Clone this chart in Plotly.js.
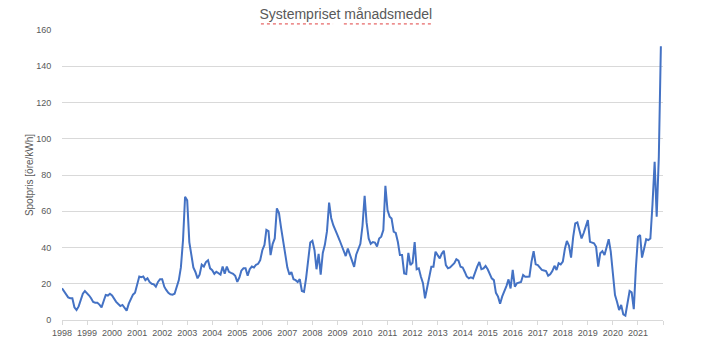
<!DOCTYPE html>
<html><head><meta charset="utf-8">
<script src="https://cdn.plot.ly/plotly-3.0.1.min.js"></script>
<style>html,body{margin:0;padding:0;background:#fff}#chart{width:728px;height:360px}</style>
</head><body><div id="chart"></div>
<script>
// Years covered (monthly averages, Jan..Dec for each year)
const years = [1998,1999,2000,2001,2002,2003,2004,2005,2006,2007,2008,2009,2010,2011,2012,2013,2014,2015,2016,2017,2018,2019,2020,2021];
const monthNums = ['01','02','03','04','05','06','07','08','09','10','11','12'];

// Monthly system price, öre/kWh
const prices = [
  17.5,16,14,12.5,12,12,7,5.5,7.5,11,14.5,16,            // 1998
  15,13.5,12,10,9.5,9.5,8.5,7,10.5,13.8,13.5,14.5,       // 1999
  13.5,11.5,10,8.8,7.7,8.3,6.5,5.2,9,12,14,15,           // 2000
  19,24,23.6,24,22,23,21,20,19.7,18.4,21,22.5,           // 2001
  22.5,18.4,16.6,15,14.2,14,14.5,18,22,29,44,68,         // 2002
  66,43,35,29,26.5,23,25,30.5,29.5,32,33,28.5,           // 2003
  27.5,25.5,26.6,25.8,25,29.5,25.5,29.5,26.6,26,25.5,24.4, // 2004
  21,23.5,27.2,28.5,28.5,24.4,28,29.5,29,30.5,31,33,     // 2005
  38.5,41.4,49.7,49,35.8,42,45,61.6,59,51,44,35,         // 2006
  28.9,25,26.5,22.5,22,21,22.5,16,15.5,23,31.8,42.8,     // 2007
  43.7,38.5,28,36.5,25,37,41.5,49,64.8,56.3,52.3,50,     // 2008
  46.8,44,41,38.5,35.3,39.4,35.8,32.5,29.3,36,39.4,42,   // 2009
  52,68.5,54,45,42,43,42.7,40.5,45,46,49.6,74,           // 2010
  60.7,57,56,48.7,48,43,35.8,35.8,25.7,25.4,37,30.3,     // 2011
  31.6,43,28,28.5,24,20.3,12,18,22,29.4,29.4,37.7,       // 2012
  35.8,34,36.5,38.2,30.3,28.5,29,30,31.3,33.5,32.7,29.4, // 2013
  29,26.5,24,23,23.5,23,26.6,29.4,32,28,28.5,29.8,       // 2014
  28,25.7,23,22,15,12.9,9,13,15.5,18.7,22.4,17.4,        // 2015
  27.6,18.4,20.2,20.5,21,24.8,23.9,23.9,24,32.2,38,30.7, // 2016
  30.3,28.9,27.6,27.3,27,24.4,25.2,27,29.9,27.6,31.3,30.7, // 2017
  32.2,39.5,43.6,41,34.4,45.9,53.3,53.8,48.7,45,48,51,   // 2018
  55.1,43.1,42.5,42.3,40.4,29.4,36.8,38,35.8,40,44.6,37.7, // 2019
  25,13.8,10.1,5.5,8.3,3.1,2.4,9.2,16,15.3,6,28.5,       // 2020
  45.9,46.9,34.4,39.5,44.6,44.1,45,64,87.3,57,90,151     // 2021
];

// Axis tick labels (one per year, last boundary tick unlabeled)
const tickYears = ['1998','1999','2000','2001','2002','2003','2004','2005','2006','2007','2008','2009','2010','2011','2012','2013','2014','2015','2016','2017','2018','2019','2020','2021',''];
const tickDates = tickYears.map((t,i)=> (1998+i) + '-01-01');

const chartTitle = 'Systempriset månadsmedel';
const yTitle = 'Spotpris [öre/kWh]';

const months = [];
years.forEach(y => monthNums.forEach(m => months.push(y + '-' + m + '-01')));

const FONT = 'Liberation Sans, Arial, sans-serif';
const GREY = '#595959';

const trace = {
  x: months, y: prices, type: 'scatter', mode: 'lines',
  line: {color: '#4472C4', width: 2},
  hoverinfo: 'x+y'
};

// red spell-check style underline beneath the two title words (paper coords)
const squiggle = (x0, x1) => ({
  type: 'line', xref: 'paper', yref: 'paper', x0: x0, x1: x1, y0: 1.021, y1: 1.021,
  line: {color: '#e04040', width: 1, dash: 'dot'}
});

const layout = {
  width: 728, height: 360,
  margin: {l: 62, r: 65, t: 30, b: 40},
  paper_bgcolor: '#ffffff', plot_bgcolor: '#ffffff',
  showlegend: false,
  font: {family: FONT, color: GREY, size: 9},
  title: {text: chartTitle, font: {family: FONT, size: 14, color: GREY},
          x: 0.475, xanchor: 'center', y: 0.962, yanchor: 'middle'},
  xaxis: {
    type: 'date', range: ['1998-01-01', '2022-01-01'],
    tickmode: 'array', tickvals: tickDates, ticktext: tickYears,
    ticks: 'outside', ticklen: 4, tickcolor: '#d9d9d9', tickwidth: 1,
    showline: true, linecolor: '#d9d9d9', linewidth: 1,
    showgrid: false, zeroline: false,
    tickfont: {family: FONT, size: 9, color: GREY}, tickangle: 0
  },
  yaxis: {
    range: [0, 160], dtick: 20, tick0: 0,
    showgrid: true, gridcolor: '#d9d9d9', gridwidth: 1,
    zeroline: false, showline: false,
    ticks: 'outside', ticklen: 8, tickcolor: 'rgba(0,0,0,0)',
    tickfont: {family: FONT, size: 9, color: GREY},
    title: {text: yTitle, font: {family: FONT, size: 10, color: GREY}, standoff: 0}
  },
  shapes: [squiggle(0.331, 0.451), squiggle(0.469, 0.614)]
};

Plotly.newPlot('chart', [trace], layout, {displayModeBar: false, staticPlot: true});
</script>
</body></html>
